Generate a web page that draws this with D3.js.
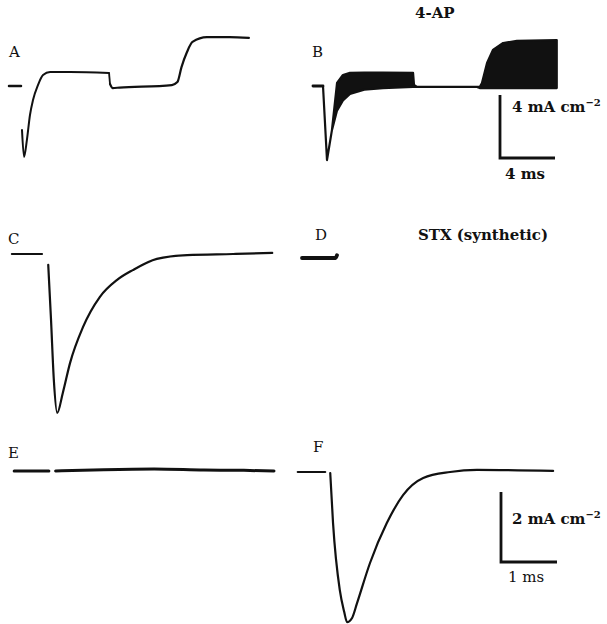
<!DOCTYPE html>
<html>
<head>
<meta charset="utf-8">
<script src="https://cdn.jsdelivr.net/npm/d3@7"></script>
<style>
  body { margin: 0; background: #fff; }
  text { font-family: "DejaVu Serif", "Liberation Serif", serif; fill: #111; }
</style>
</head>
<body>
<div class="chart"></div>
<script>
// DATA ------------------------------------
// time in ms from the start of the step, current in mA cm-2 (inward negative)

// A: control, long step then step back
const aHoldTime = [-0.95, -0.07];
const aHoldCurrent = [0, 0];
const aTime = [0, 0.15, 0.36, 0.58, 0.8, 1.16, 1.53, 2.04, 3.5, 6.33, 6.4, 6.6, 7.1, 10.9, 11.3, 11.6, 12.0, 12.4, 13.45, 15.1, 16.5];
const aCurrent = [-2.8, -4.5, -3.4, -1.84, -0.89, 0.06, 0.7, 0.89, 0.89, 0.83, 0.13, -0.13, -0.1, 0.06, 0.25, 1.2, 2.16, 2.8, 3.1, 3.1, 3.05];

// B: 4-AP, upper and lower envelope of the band
const bHoldTime = [-0.73, 0];
const bHoldCurrent = [0, 0];
const bTime = [0, 0.29, 0.65, 1.02, 1.45, 1.96, 3, 4.36, 6.55, 6.62, 6.84, 11.2, 11.4, 11.56, 11.93, 12.36, 13.1, 14.1, 17.0];
const bUpper = [0, -4.7, -2.8, 0.19, 0.7, 0.83, 0.85, 0.85, 0.83, 0.06, -0.06, -0.06, -0.06, 0.19, 1.46, 2.29, 2.73, 2.86, 2.92];
const bLower = [0, -4.7, -2.8, -1.56, -0.92, -0.5, -0.23, -0.13, -0.06, -0.06, -0.06, -0.06, -0.13, -0.13, -0.13, -0.13, -0.13, -0.13, -0.13];

// C: control, short step
const cHoldTime = [-0.61, -0.07];
const cHoldCurrent = [0, 0];
const cTime = [0.04, 0.09, 0.14, 0.2, 0.3, 0.43, 0.66, 0.96, 1.27, 1.55, 1.98, 2.52, 3.34, 4.04];
const cCurrent = [-0.31, -1.89, -3.6, -4.54, -3.97, -3.11, -2.09, -1.23, -0.74, -0.46, -0.14, -0.03, 0, 0.03];

// D: STX (synthetic)
const dTime = [-0.5, -0.2, 0.1, 0.125];
const dCurrent = [0, 0, 0, 0.08];

// E: STX, no current
const eHoldTime = [-0.64, -0.02];
const eHoldCurrent = [-0.03, -0.03];
const eTime = [0.1, 0.96, 1.86, 2.75, 3.46, 4.0];
const eCurrent = [-0.03, 0.01, 0.03, 0, -0.01, -0.03];

// F: after wash
const fHoldTime = [-0.54, -0.05];
const fHoldCurrent = [0, 0];
const fTime = [0.04, 0.09, 0.21, 0.29, 0.34, 0.43, 0.52, 0.75, 1.05, 1.34, 1.7, 2.18, 2.66, 4.02];
const fCurrent = [-0.03, -1.46, -3.37, -4.0, -4.29, -4.17, -3.74, -2.6, -1.46, -0.66, -0.17, 0, 0.06, 0.03];

// scale bars: [ms, mA cm-2]
const topBar = [4, 4];
const bottomBar = [1, 2];

// CHART INIT ------------------------------
const width = 607;
const height = 624;

const svg = d3
  .select('.chart')
  .append('svg')
  .attr('width', width)
  .attr('height', height);

svg.append('rect').attr('width', width).attr('height', height).attr('fill', '#fff');

// each panel gets its own scales: origin (step start, zero current) in pixels
function panelScales(x0, y0, pxPerMs, pxPerMa) {
  const x = d3.scaleLinear().domain([0, 1]).range([x0, x0 + pxPerMs]);
  const y = d3.scaleLinear().domain([0, 1]).range([y0, y0 - pxPerMa]);
  return { x, y };
}

const topMs = 55 / topBar[0];
const topMa = 63 / topBar[1];
const botMs = 56 / bottomBar[0];
const botMa = 70 / bottomBar[1];

const sA = panelScales(22, 86, topMs, topMa);
const sB = panelScales(323, 86, topMs, topMa);
const sC = panelScales(46, 254, botMs, botMa);
const sD = panelScales(330, 258, botMs, botMa);
const sE = panelScales(50, 470, botMs, botMa);
const sF = panelScales(328, 472, botMs, botMa);

function drawTrace(s, times, values, sw) {
  const pts = times.map((t, i) => [t, values[i]]);
  const line = d3
    .line()
    .x((d) => s.x(d[0]))
    .y((d) => s.y(d[1]))
    .curve(d3.curveMonotoneX);
  svg
    .append('path')
    .datum(pts)
    .attr('d', line)
    .attr('fill', 'none')
    .attr('stroke', '#111')
    .attr('stroke-width', sw)
    .attr('stroke-linecap', 'round')
    .attr('stroke-linejoin', 'round');
}

// A
drawTrace(sA, aHoldTime, aHoldCurrent, 2.4);
drawTrace(sA, aTime.slice(0, 10), aCurrent.slice(0, 10), 2);
drawTrace(sA, aTime.slice(10), aCurrent.slice(10), 2.2);
svg.append('path')
  .attr('d', d3.line()([[sA.x(aTime[9]), sA.y(aCurrent[9])], [sA.x(aTime[10]), sA.y(aCurrent[10])]]))
  .attr('stroke', '#111').attr('stroke-width', 1.8).attr('fill', 'none');

// B: filled band between envelopes
const bPts = bTime.map((t, i) => ({ t, hi: bUpper[i], lo: bLower[i] }));
const bArea = d3
  .area()
  .x((d) => sB.x(d.t))
  .y0((d) => sB.y(d.lo))
  .y1((d) => sB.y(d.hi))
  .curve(d3.curveLinear);
svg
  .append('path')
  .datum(bPts)
  .attr('d', bArea)
  .attr('fill', '#111')
  .attr('stroke', '#111')
  .attr('stroke-width', 2.2)
  .attr('stroke-linejoin', 'round');
drawTrace(sB, bHoldTime, bHoldCurrent, 2.8);

// C
drawTrace(sC, cHoldTime, cHoldCurrent, 2);
drawTrace(sC, cTime, cCurrent, 2.2);

// D
drawTrace(sD, dTime, dCurrent, 3.8);

// E
drawTrace(sE, eHoldTime, eHoldCurrent, 3);
drawTrace(sE, eTime, eCurrent, 3);

// F
drawTrace(sF, fHoldTime, fHoldCurrent, 2.2);
drawTrace(sF, fTime, fCurrent, 2.2);

// scale bars (corner position, lengths from the panel scales)
function scaleBar(s, cx, cy, bar) {
  const w = s.x(bar[0]) - s.x(0);
  const h = s.y(0) - s.y(bar[1]);
  svg
    .append('path')
    .attr('d', d3.line()([[cx, cy - h], [cx, cy], [cx + w, cy]]))
    .attr('fill', 'none')
    .attr('stroke', '#111')
    .attr('stroke-width', 2.8);
}
scaleBar(sB, 500, 158, topBar);
scaleBar(sF, 501, 562, bottomBar);

function unitLabel(x, y, n) {
  const t = svg.append('text').attr('x', x).attr('y', y)
    .attr('font-size', 15).attr('font-weight', 'bold');
  t.append('tspan').text(n + ' mA cm');
  t.append('tspan').attr('dy', -6).attr('font-size', 10).text('\u22122');
}
unitLabel(512, 112, topBar[1]);
unitLabel(512, 524, bottomBar[1]);

svg.append('text').attr('x', 505).attr('y', 179).attr('font-size', 15)
  .attr('font-weight', 'bold').text(topBar[0] + ' ms');
svg.append('text').attr('x', 508).attr('y', 582).attr('font-size', 15)
  .text(bottomBar[0] + ' ms');

// titles and panel letters
svg.append('text').attr('x', 415).attr('y', 18).attr('font-size', 15)
  .attr('font-weight', 'bold').text('4-AP');
svg.append('text').attr('x', 418).attr('y', 240).attr('font-size', 15)
  .attr('font-weight', 'bold')
  .attr('textLength', 130).attr('lengthAdjust', 'spacingAndGlyphs')
  .text('STX (synthetic)');

const letters = [
  ['A', 9, 57], ['B', 312, 57], ['C', 8, 244],
  ['D', 315, 240], ['E', 8, 458], ['F', 313, 452]
];
svg.selectAll('.letter')
  .data(letters)
  .enter()
  .append('text')
  .attr('class', 'letter')
  .attr('x', (d) => d[1])
  .attr('y', (d) => d[2])
  .attr('font-size', 15)
  .text((d) => d[0]);
</script>
</body>
</html>
